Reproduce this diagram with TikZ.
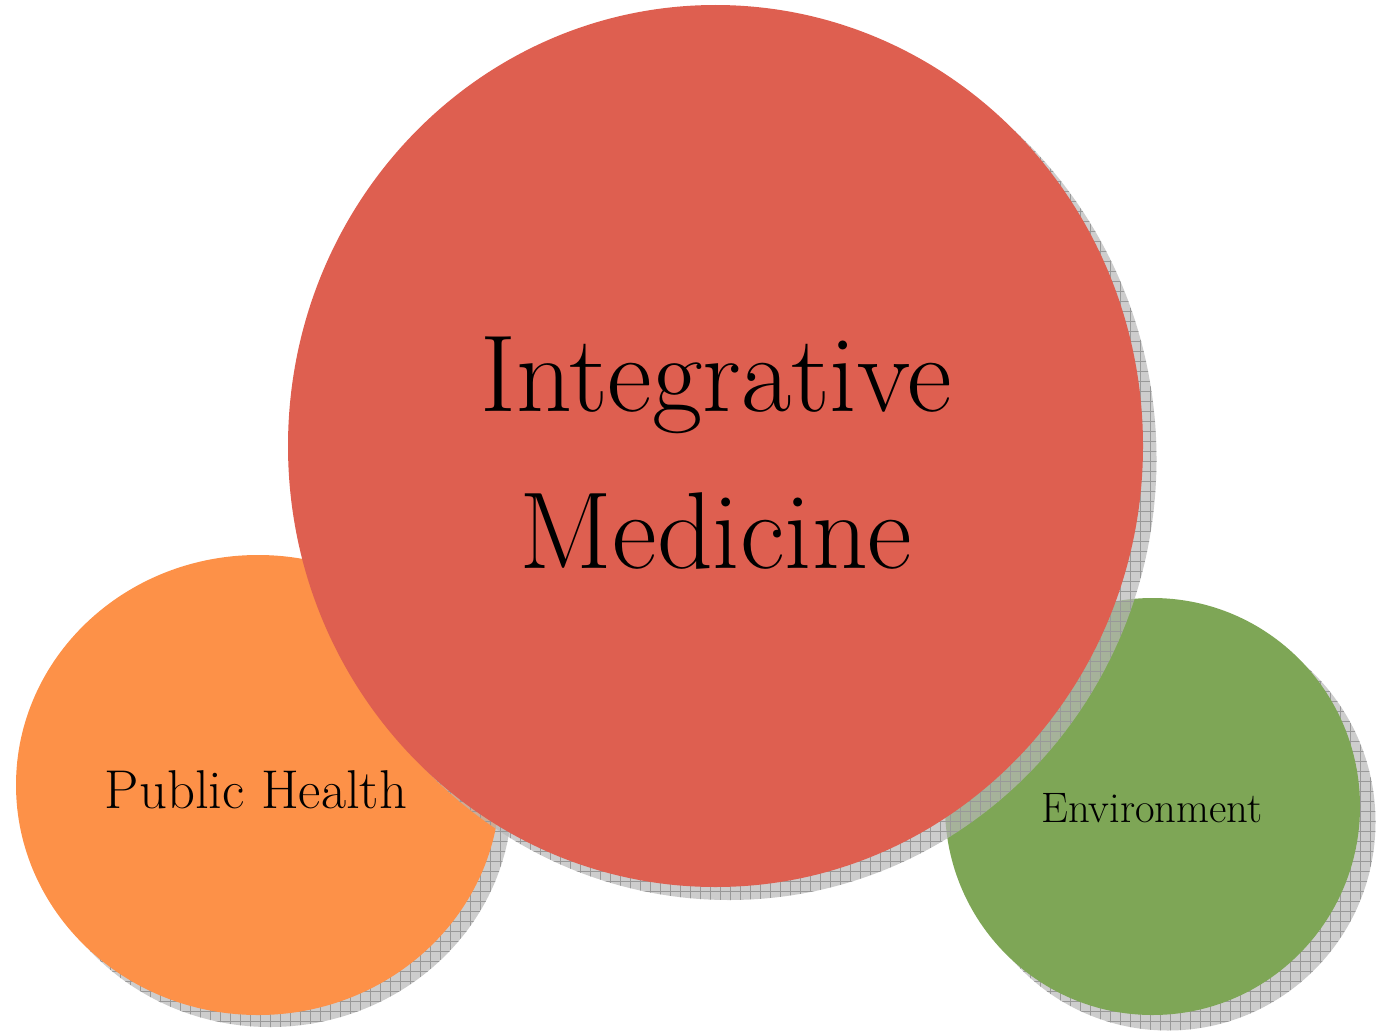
\documentclass[tikz,border=0pt]{standalone}
\usepackage{tikz}
\usetikzlibrary{patterns.meta}
\definecolor{imred}{RGB}{222,95,80}
\definecolor{phorange}{RGB}{253,145,72}
\definecolor{envgreen}{RGB}{126,166,86}

\begin{document}
\begin{tikzpicture}[x=0.75pt,y=0.75pt,yscale=-1,xscale=1,
  shdw/.style={fill=black!28,fill opacity=0.7,
    postaction={pattern={Hatch[angle=0,distance=7.5pt,line width=0.25pt]},pattern color=black!40}}]
\useasboundingbox (0,0) rectangle (1384,1031);

%Shape: Ellipse [Public Health shadow]
\fill [shdw] (270,797) ellipse (242 and 230);
%Shape: Ellipse [Public Health]
\fill [phorange] (258,785) ellipse (242 and 230);

%Shape: Circle [Environment shadow]
\fill [shdw] (1168,822) ellipse (207.5 and 208.5);
%Shape: Circle [Environment]
\fill [envgreen] (1152.5,806.5) ellipse (207.5 and 208.5);

%Shape: Circle [Integrative Medicine shadow]
\fill [shdw] (729,459) ellipse (427.5 and 441);
%Shape: Circle [Integrative Medicine]
\fill [imred] (715.5,446) ellipse (427.5 and 441);

% Text Node
\node (med) at (716,453) [align=center,font=\fontsize{82}{118}\selectfont] {Integrative\\Medicine};
% Text Node
\node (pub) at (256,790) [font=\fontsize{41}{48}\selectfont] {Public Health};
% Text Node
\node (env) at (1152,808) [font=\fontsize{32}{38}\selectfont] {Environment};

\end{tikzpicture}
\end{document}
